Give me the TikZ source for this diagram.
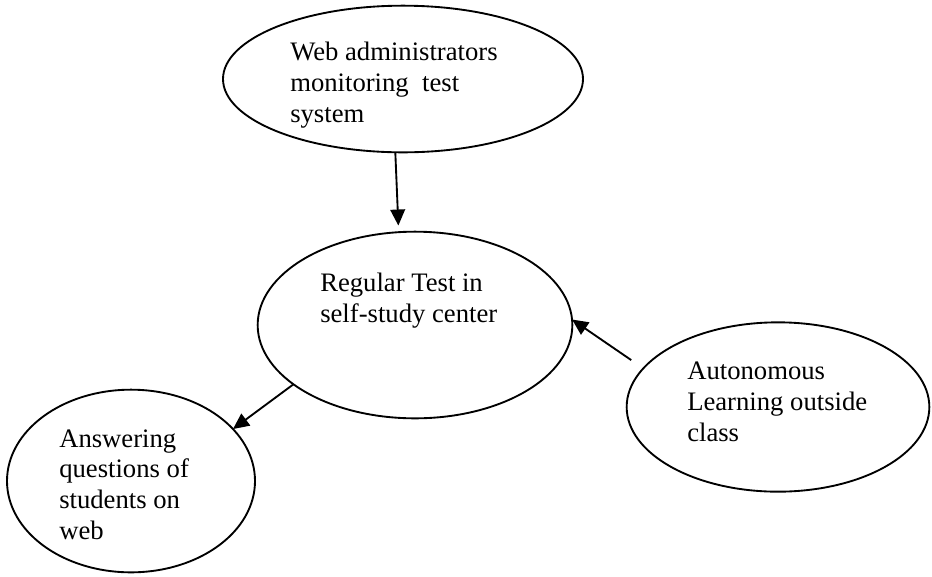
\documentclass[tikz,border=0pt]{standalone}
\usepackage{fontspec}
\setmainfont{Liberation Serif}
\usetikzlibrary{shapes.geometric,arrows.meta}

\tikzset{
  bubble/.style={draw, line width=1.4pt, ellipse, inner sep=0pt, outer sep=0pt},
  % multi-line labels are placed by the baseline of their last line
  lbl/.style={anchor=base west, inner sep=0pt, align=left,
              font=\fontsize{20}{23}\selectfont},
  flow/.style={line width=1.4pt, -{Triangle[length=12pt, width=11pt]}}
}

\begin{document}
\begin{tikzpicture}[x=0.75pt, y=-0.75pt]
  \useasboundingbox (0,0) rectangle (932,576);

  % ellipses
  \node[bubble, minimum width=270pt, minimum height=110pt] (admin) at (403,79) {};
  \node[bubble, minimum width=236pt, minimum height=140pt] (test)  at (415,325) {};
  \node[bubble, minimum width=227pt, minimum height=127pt] (auto)  at (778,407) {};
  \node[bubble, minimum width=186pt, minimum height=137pt] (answer) at (131,481) {};

  % labels
  \node[lbl] (admintxt)  at (290,122) {Web administrators\\monitoring\ \ test\\system};
  \node[lbl] (testtxt)   at (320,322) {Regular Test in\\self-study center};
  \node[lbl] (autotxt)   at (687,441) {Autonomous\\Learning outside\\class};
  \node[lbl] (answertxt) at (59,539)  {Answering\\questions of\\students on\\web};

  % connectors
  \draw[flow, shorten >=5pt] (admin.-96) -- (test.100);
  \draw[flow, shorten <=11pt] (auto.164.5) -- (test.2.5);
  \draw[flow] (test.-154) -- (answer.27);
\end{tikzpicture}
\end{document}
